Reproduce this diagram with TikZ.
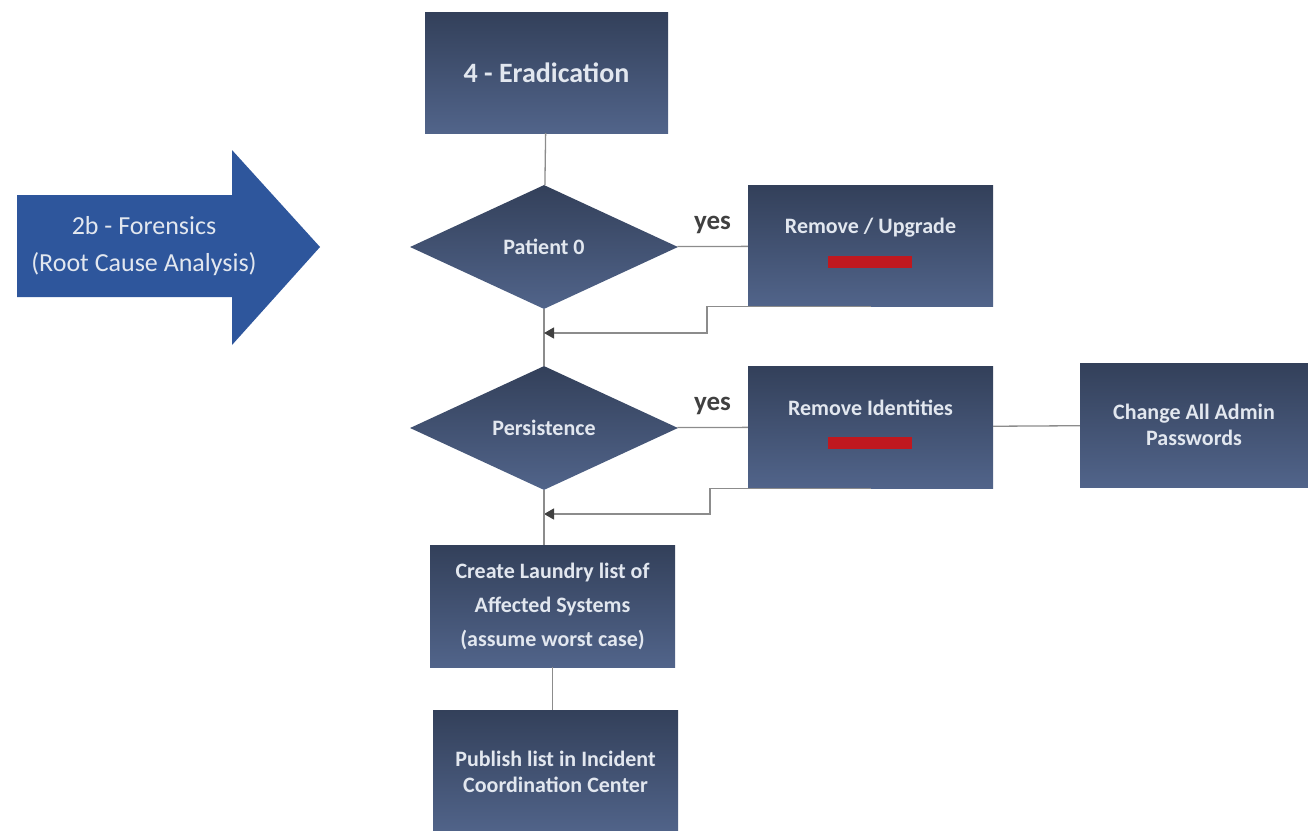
\documentclass[tikz,border=0pt]{standalone}
\usepackage{fontspec}
\setmainfont{Carlito}
\usetikzlibrary{shapes.geometric,arrows.meta,calc}

\definecolor{boxtop}{HTML}{33405A}
\definecolor{boxbot}{HTML}{51648A}
\definecolor{boxtext}{HTML}{E2E7EF}
\definecolor{arrowblue}{HTML}{2E569C}
\definecolor{barred}{HTML}{C0181F}
\definecolor{linegrey}{HTML}{8C8C8C}

\begin{document}
\begin{tikzpicture}[
  x=1pt, y=-1pt,
  > = {Triangle[length=10pt,width=11pt,color=black!75]},
  stepbox/.style = {rectangle,top color=boxtop,bottom color=boxbot,text=boxtext,
    font=\fontsize{22}{26}\selectfont\bfseries,align=center,inner sep=0pt},
  decision/.style = {diamond,top color=boxtop,bottom color=boxbot,text=boxtext,
    font=\fontsize{22}{26}\selectfont\bfseries,inner sep=0pt,
    minimum width=268pt,minimum height=124pt},
  boxtxt/.style = {text=boxtext,font=\fontsize{22}{26}\selectfont\bfseries,align=center},
  redbar/.style = {fill=barred,inner sep=0pt,minimum width=84pt,minimum height=12pt},
  conn/.style = {draw=linegrey,line width=1.3pt},
  yes/.style = {text=black!75,font=\fontsize{27}{30}\selectfont\bfseries,anchor=base,yshift=17pt,inner sep=0pt}
  ]
	\useasboundingbox (0,0) rectangle (1308,830);

	\fill[arrowblue] (17,195) -- (232,195) -- (232,150) -- (320,247)
		-- (232,345) -- (232,297) -- (17,297) -- cycle;
	\node[text=boxtext,font=\fontsize{26}{37}\selectfont,align=center] (forensics) at (144,246)
		{2b - Forensics\\(Root Cause Analysis)};

	\node[stepbox,minimum width=243pt,minimum height=121pt,font=\fontsize{28}{32}\selectfont\bfseries]
		(erad) at (546.5,72.5) {4 - Eradication};

	\node[decision] (pat0) at (544,247) {Patient 0};
	\node[decision] (pers) at (544,428) {Persistence};

	\node[stepbox,minimum width=245pt,minimum height=121pt] (remup) at (870.5,246) {};
	\node[boxtxt] (remuptxt) at (870.5,228) {Remove / Upgrade};
	\node[redbar] (bar1) at (870,262) {};

	\node[stepbox,minimum width=245pt,minimum height=122pt] (remid) at (870.5,427) {};
	\node[boxtxt] (remidtxt) at (870.5,408) {Remove Identities};
	\node[redbar] (bar2) at (870,443) {};

	\node[stepbox,minimum width=228pt,minimum height=124pt] (chg) at (1194,425)
		{Change All Admin\\Passwords};

	\node[stepbox,minimum width=245pt,minimum height=122pt,font=\fontsize{22}{34}\selectfont\bfseries]
		(laundry) at (552.5,606) {Create Laundry list of\\Affected Systems\\(assume worst case)};

	\node[stepbox,minimum width=245pt,minimum height=124pt] (publish) at (555.5,772)
		{Publish list in Incident\\Coordination Center};

	\coordinate (m1) at (544,333);
	\coordinate (m2) at (544,514);
	\coordinate (j1) at (707,333);
	\coordinate (j2) at (710,514);

	\draw[conn] (erad) -- (pat0);
	\draw[conn] (pat0) -- (pers);
	\draw[conn] (pat0) -- node[yes] {yes} (remup);
	\draw[conn] (pers) -- node[yes] {yes} (remid);
	\draw[conn] (remid) -- (chg);
	\draw[conn,->] (remup.south) -- (remup.south -| j1) -- (j1) -- (m1);
	\draw[conn,->] (remid.south) -- (remid.south -| j2) -- (j2) -- (m2);
	\draw[conn] (pers.south) -- (pers.south |- laundry.north);
	\draw[conn] (laundry.south) -- (laundry.south |- publish.north);

\end{tikzpicture}
\end{document}
